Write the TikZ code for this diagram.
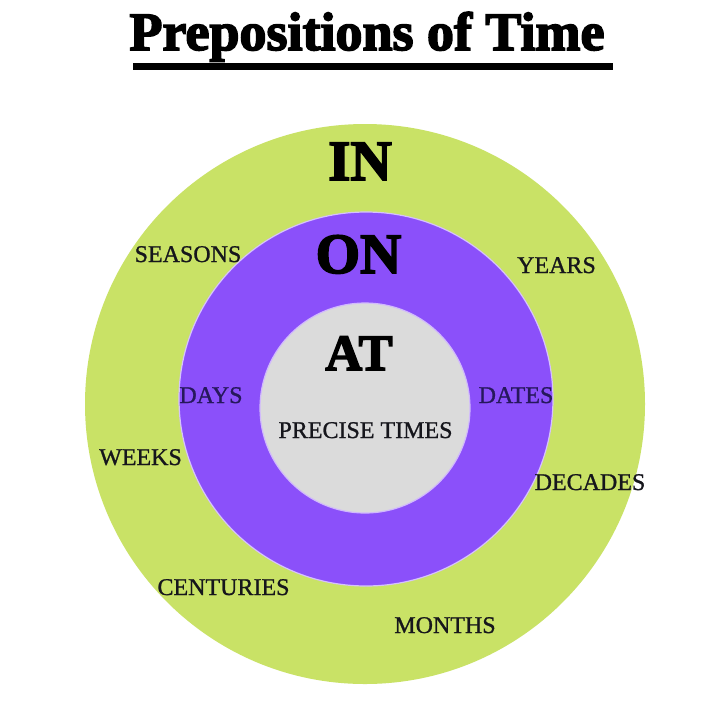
\documentclass[tikz,border=0pt]{standalone}
\usepackage{fontspec}
\setmainfont{Liberation Serif}
\newfontfamily\heavyfont[UprightFont={* Bold},FakeBold=3]{Liberation Serif}
\newfontfamily\labelfont[FakeBold=1]{Liberation Serif}
\definecolor{ringgreen}{RGB}{201,226,102}
\definecolor{ringpurple}{RGB}{139,80,250}
\definecolor{coregray}{RGB}{219,219,219}
\definecolor{labelink}{RGB}{22,22,28}
\definecolor{navyink}{RGB}{38,24,92}

\begin{document}
\begin{tikzpicture}[x=1pt,y=-1pt,
    wordlabel/.style={font=\labelfont\fontsize{24}{24}\selectfont,text=labelink,inner sep=0pt,anchor=base},
    bigword/.style={font=\heavyfont\fontsize{57}{57}\selectfont,inner sep=0pt,anchor=base}]
        \useasboundingbox[fill=white] (0,0) rectangle (720,716);
        % rings
        \fill[ringgreen] (365,404) circle[radius=280];
        \filldraw[ringpurple,draw=white!65!ringpurple,line width=1.2pt] (366,399) circle[radius=187];
        \filldraw[coregray,draw=white!60!ringpurple,line width=1.2pt] (365,408) circle[radius=105];
        % title
        \node[bigword,font=\heavyfont\fontsize{54}{54}\selectfont] (title) at (367,50) {Prepositions of Time};
        \fill (133,63) rectangle (613,70);
        % ring names
        \node[bigword] (in) at (360,180) {IN};
        \node[bigword] (on) at (358.5,273) {ON};
        \node[bigword,font=\heavyfont\fontsize{51}{51}\selectfont] (at) at (359,370) {AT};
        % outer ring
        \node[wordlabel] (seasons) at (188,262) {SEASONS};
        \node[wordlabel] (years) at (556.5,273) {YEARS};
        \node[wordlabel] (weeks) at (140.5,465) {WEEKS};
        \node[wordlabel] (decades) at (590,490) {DECADES};
        \node[wordlabel] (centuries) at (223.5,595) {CENTURIES};
        \node[wordlabel] (months) at (445,633) {MONTHS};
        % middle ring
        \node[wordlabel,text=navyink] (days) at (211,403) {DAYS};
        \node[wordlabel,text=navyink] (dates) at (516,403) {DATES};
        % core
        \node[wordlabel] (precise) at (365.5,438) {PRECISE TIMES};
\end{tikzpicture}
\end{document}
